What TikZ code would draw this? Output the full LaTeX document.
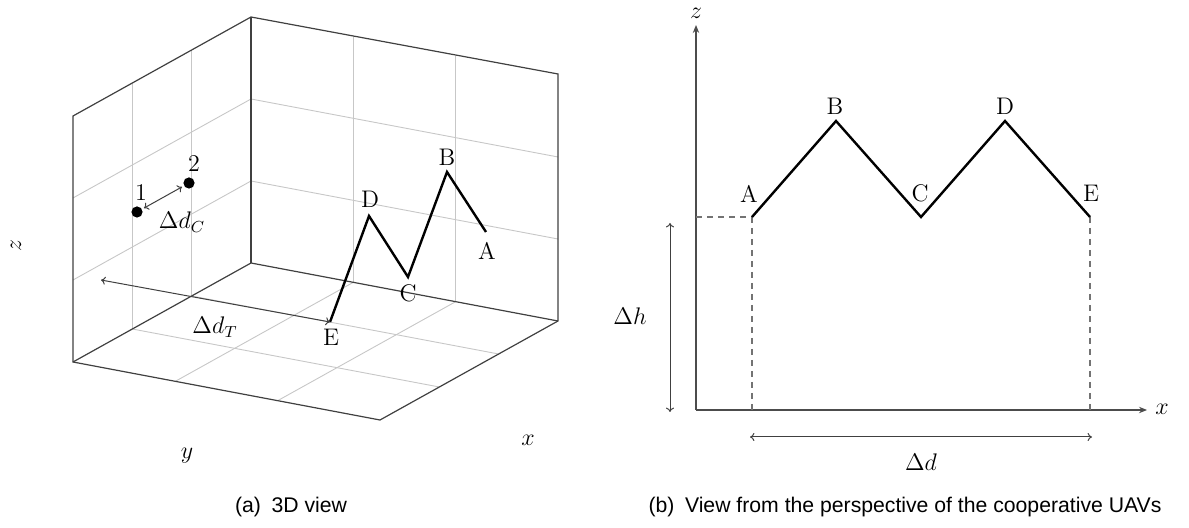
\documentclass[tikz,border=0pt]{standalone}
\usepackage{fontspec}
\setsansfont{Liberation Sans}
\usetikzlibrary{arrows.meta}
\tikzset{
  grid3d/.style={draw=black!22, line width=0.45pt},
  edge3d/.style={draw=black!75, line width=0.6pt},
  traj/.style={draw=black, line width=1.2pt, line join=miter},
  dimarrow/.style={draw=black!75, line width=0.5pt, {To[length=2.2pt,width=4pt]}-{To[length=2.2pt,width=4pt]}},
  axisline/.style={draw=black!70, line width=0.6pt, -{Stealth[length=4pt,width=3.2pt]}},
  dashline/.style={draw=black!55, line width=0.6pt, dash pattern=on 3pt off 2.5pt},
  lbl/.style={inner sep=1pt, font=\fontsize{12}{14}\selectfont},
  uav/.style={circle, fill=black, inner sep=0pt, minimum size=5.6pt},
  captext/.style={font=\sffamily\fontsize{10.6}{12}\selectfont, inner sep=0pt}
}
\begin{document}
\begin{tikzpicture}[x=0.5pt,y=-0.5pt]
\useasboundingbox (0,0) rectangle (1189,528);
% ---------------- 3D view ----------------
\coordinate (O) at (251,263);
\coordinate (X) at (558,321);
\coordinate (Y) at (73,362);
\coordinate (Zt) at (251,17);
\coordinate (XZ) at (558,74);
\coordinate (YZ) at (73,116);
\coordinate (XY) at (380,420);
% grid
\foreach \t in {0.3333,0.6667}{
  \draw[grid3d] ({251-178*\t},{263+99*\t}) -- ({251-178*\t},{17+99*\t});
  \draw[grid3d] (251,{263-246*\t}) -- (73,{362-246*\t});
  \draw[grid3d] ({251+307*\t},{263+58*\t}) -- ({251+307*\t},{17+58*\t});
  \draw[grid3d] (251,{263-246*\t}) -- (558,{321-246*\t});
  \draw[grid3d] ({251+307*\t},{263+58*\t}) -- ({73+307*\t},{362+58*\t});
  \draw[grid3d] ({251-178*\t},{263+99*\t}) -- ({558-178*\t},{321+99*\t});
}
% box edges
\draw[edge3d] (YZ) -- (Zt) -- (XZ) -- (X) -- (XY) -- (Y) -- cycle;
\draw[edge3d] (Zt) -- (O);
\draw[edge3d] (Y) -- (O) -- (X);
% axis labels
\node[lbl, rotate=90] (lz3) at (16,246) {$z$};
\node[lbl] (ly3) at (187,456) {$y$};
\node[lbl] (lx3) at (528,440) {$x$};
% trajectory
\coordinate (E3) at (330,322);
\coordinate (D3) at (369,216);
\coordinate (C3) at (408,277);
\coordinate (B3) at (447,172);
\coordinate (A3) at (486,232);
\draw[traj] (E3) -- (D3) -- (C3) -- (B3) -- (A3);
\node[lbl] (lE3) at (331,337) {E};
\node[lbl] (lD3) at (370,199) {D};
\node[lbl] (lC3) at (408,293) {C};
\node[lbl] (lB3) at (447,157) {B};
\node[lbl] (lA3) at (487,251) {A};
% UAVs
\node[uav] (u1) at (137,212) {};
\node[uav] (u2) at (189,183) {};
\node[lbl] (l1) at (141,193) {1};
\node[lbl] (l2) at (194,164) {2};
\draw[dimarrow, shorten <=1pt, shorten >=1pt] (u1) -- (u2);
\node[lbl] (ldc) at (182,222) {$\Delta d_C$};
% Delta d_T
\coordinate (T1) at (101,280);
\draw[dimarrow] (T1) -- (E3);
\node[lbl] (ldt) at (215,327) {$\Delta d_T$};
% ---------------- 2D view ----------------
\coordinate (O2) at (696,410);
\coordinate (Ztop) at (696,25);
\coordinate (Xend) at (1147,410);
\draw[axisline] (O2) -- (Ztop);
\draw[axisline] (O2) -- (Xend);
\node[lbl, inner sep=0pt] (lz2) at (696,13) {$z$};
\node[lbl] (lx2) at (1162,409) {$x$};
\coordinate (A) at (752,217);
\coordinate (B) at (836,121);
\coordinate (C) at (921,217);
\coordinate (D) at (1005,121);
\coordinate (E) at (1090,217);
\coordinate (Ah) at (696,217);
\coordinate (Ab) at (752,410);
\coordinate (Eb) at (1090,410);
\draw[dashline] (Ah) -- (A);
\draw[dashline] (A) -- (Ab);
\draw[dashline] (E) -- (Eb);
\draw[traj] (A) -- (B) -- (C) -- (D) -- (E);
\node[lbl] (lA) at (749,194) {A};
\node[lbl] (lB) at (835,106) {B};
\node[lbl] (lC) at (920,193) {C};
\node[lbl] (lD) at (1005,106) {D};
\node[lbl] (lE) at (1091,193) {E};
% Delta h
\coordinate (h1) at (670,223);
\coordinate (h2) at (670,412);
\draw[dimarrow] (h1) -- (h2);
\node[lbl] (ldh) at (630,316) {$\Delta h$};
% Delta d
\coordinate (d1) at (750,437);
\coordinate (d2) at (1092,437);
\draw[dimarrow] (d1) -- (d2);
\node[lbl] (ldd) at (921,462) {$\Delta d$};
% captions
\node[captext] (capa) at (291,507) {(a)\enspace 3D view};
\node[captext] (capb) at (905,507) {(b)\enspace View from the perspective of the cooperative UAVs};
\end{tikzpicture}
\end{document}
